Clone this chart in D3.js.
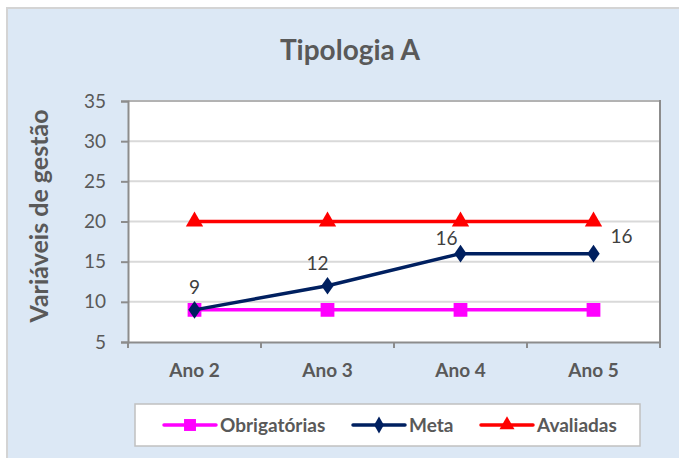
<!DOCTYPE html>
<html>
<head>
<meta charset="utf-8">
<script src="https://cdn.jsdelivr.net/npm/d3@7"></script>
<style>
  body { margin: 0; background: #fff; }
  text { font-family: Lato, "Open Sans", sans-serif; }
</style>
</head>
<body>
<div id="chart"></div>
<script>
var svgWidth = 679;
var svgHeight = 458;

// data
var categories = ["Ano 2", "Ano 3", "Ano 4", "Ano 5"];
var obrigatorias = [9, 9, 9, 9];
var meta = [9, 12, 16, 16];
var avaliadas = [20, 20, 20, 20];
var yTicks = [5, 10, 15, 20, 25, 30, 35];

var plot = { left: 128, top: 101, right: 660, bottom: 342 };

var svg = d3.select("#chart")
  .append("svg")
  .attr("width", svgWidth)
  .attr("height", svgHeight);

// chart area background
svg.append("rect")
  .attr("x", 7).attr("y", 8)
  .attr("width", 700).attr("height", 470)
  .attr("fill", "#dce8f5")
  .attr("stroke", "#d4d4d4")
  .attr("stroke-width", 2);

svg.append("rect")
  .attr("x", plot.left).attr("y", plot.top)
  .attr("width", plot.right - plot.left)
  .attr("height", plot.bottom - plot.top)
  .attr("fill", "#fff");

var x = d3.scaleBand()
  .domain(categories)
  .range([plot.left, plot.right]);

var y = d3.scaleLinear()
  .domain([5, 35])
  .range([plot.bottom, plot.top]);

var cx = d => x(d) + x.bandwidth() / 2;

// gridlines
svg.append("g")
  .selectAll("line")
  .data(yTicks.slice(1))
  .enter()
  .append("line")
  .attr("x1", plot.left).attr("x2", plot.right)
  .attr("y1", d => y(d)).attr("y2", d => y(d))
  .attr("stroke", "#d9d9d9")
  .attr("stroke-width", 2);

// right border of plot
svg.append("line")
  .attr("x1", plot.right).attr("x2", plot.right)
  .attr("y1", plot.top - 1).attr("y2", plot.bottom)
  .attr("stroke", "#8c8c8c").attr("stroke-width", 2);
svg.append("line")
  .attr("x1", plot.left).attr("x2", plot.right)
  .attr("y1", plot.top).attr("y2", plot.top)
  .attr("stroke", "#8c8c8c").attr("stroke-width", 1);

// y axis
var yAxis = svg.append("g")
  .attr("transform", `translate(${plot.left}, 0)`)
  .call(d3.axisLeft(y).tickValues(yTicks).tickSize(7).tickPadding(15));

// x axis
var xAxis = svg.append("g")
  .attr("transform", `translate(0, ${plot.bottom})`)
  .call(d3.axisBottom(x).tickSize(0).tickPadding(22));

svg.append("g")
  .selectAll("line")
  .data(categories.concat(["end"]))
  .enter()
  .append("line")
  .attr("x1", (d, i) => plot.left + i * x.bandwidth())
  .attr("x2", (d, i) => plot.left + i * x.bandwidth())
  .attr("y1", plot.bottom).attr("y2", plot.bottom + 6)
  .attr("stroke", "#8c8c8c").attr("stroke-width", 2);

[yAxis, xAxis].forEach(a => {
  a.select(".domain").attr("stroke", "#8c8c8c").attr("stroke-width", 2);
  a.selectAll(".tick line").attr("stroke", "#8c8c8c").attr("stroke-width", 2);
});
yAxis.selectAll("text")
  .attr("font-size", 19).attr("fill", "#595959");
xAxis.selectAll("text")
  .attr("font-size", 19).attr("font-weight", "bold").attr("fill", "#595959");

// title
svg.append("text")
  .attr("x", 350).attr("y", 60)
  .attr("text-anchor", "middle")
  .attr("font-size", 28).attr("font-weight", "bold")
  .attr("fill", "#595959")
  .text("Tipologia A");

svg.append("text")
  .attr("transform", "translate(48, 216) rotate(-90)")
  .attr("text-anchor", "middle")
  .attr("font-size", 25).attr("font-weight", "bold")
  .attr("fill", "#595959")
  .text("Variáveis de gestão");

// series
var series = [
  { name: "Obrigatórias", values: obrigatorias, color: "#ff00ff", marker: d3.symbolSquare, size: 190 },
  { name: "Meta", values: meta, color: "#002060", marker: d3.symbolDiamond, size: 110 },
  { name: "Avaliadas", values: avaliadas, color: "#ff0000", marker: d3.symbolTriangle, size: 130 }
];

var line = d3.line()
  .x((d, i) => cx(categories[i]))
  .y(d => y(d));

series.forEach(s => {
  svg.append("path")
    .attr("d", line(s.values))
    .attr("fill", "none")
    .attr("stroke", s.color)
    .attr("stroke-width", 3.5);

  svg.append("g")
    .selectAll("path")
    .data(s.values)
    .enter()
    .append("path")
    .attr("d", d3.symbol().type(s.marker).size(s.size))
    .attr("transform", (d, i) => `translate(${cx(categories[i])}, ${y(d)})` + (s.marker === d3.symbolDiamond ? " scale(1.1,0.9)" : ""))
    .attr("fill", s.color);
});

// data labels for Meta
var labelOffsets = [[0, -16], [-10, -16], [-14, -9], [28, -11]];
svg.append("g")
  .selectAll("text")
  .data(meta)
  .enter()
  .append("text")
  .attr("x", (d, i) => cx(categories[i]) + labelOffsets[i][0])
  .attr("y", (d, i) => y(d) + labelOffsets[i][1])
  .attr("text-anchor", "middle")
  .attr("font-size", 19)
  .attr("fill", "#404040")
  .text(d => d);

// legend
var legend = svg.append("g");
legend.append("rect")
  .attr("x", 135).attr("y", 404)
  .attr("width", 505).attr("height", 42)
  .attr("fill", "#fff")
  .attr("stroke", "#c0c0c0")
  .attr("stroke-width", 1.5);

var legendX = [164, 353, 481];
series.forEach((s, i) => {
  var g = legend.append("g").attr("transform", `translate(${legendX[i]}, 425)`);
  g.append("line")
    .attr("x1", 0).attr("x2", 52)
    .attr("stroke", s.color).attr("stroke-width", 3.5)
    .attr("stroke-linecap", "round");
  g.append("path")
    .attr("d", d3.symbol().type(s.marker).size(s.size * 0.75))
    .attr("transform", "translate(26, 0)")
    .attr("fill", s.color);
  g.append("text")
    .attr("x", 56).attr("y", 7)
    .attr("font-size", 19).attr("font-weight", "bold")
    .attr("fill", "#595959")
    .text(s.name);
});
</script>
</body>
</html>
